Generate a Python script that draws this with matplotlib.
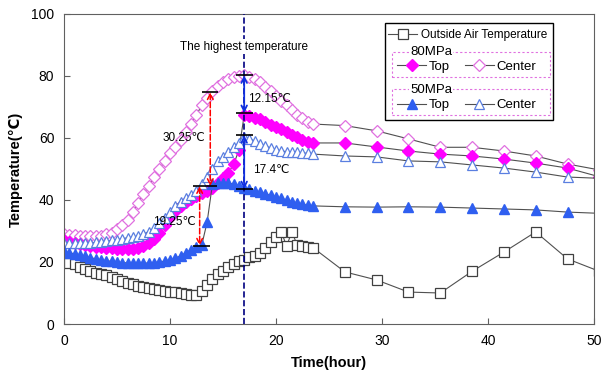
import matplotlib
matplotlib.use('Agg')
import matplotlib.pyplot as plt
from matplotlib.patches import Rectangle

plt.rcParams['font.family'] = ['Liberation Sans', 'DejaVu Sans']

# time (hour): every 0.5 h up to 23.5 h, then every 3 h
hours = [0, 0.5, 1, 1.5, 2, 2.5, 3, 3.5, 4, 4.5, 5, 5.5, 6, 6.5, 7, 7.5,
         8, 8.5, 9, 9.5, 10, 10.5, 11, 11.5, 12, 12.5, 13, 13.5, 14, 14.5,
         15, 15.5, 16, 16.5, 17, 17.5, 18, 18.5, 19, 19.5, 20, 20.5, 21,
         21.5, 22, 22.5, 23, 23.5,
         26.5, 29.5, 32.5, 35.5, 38.5, 41.5, 44.5, 47.5, 50.5]

outside_air = [20.5, 19.8, 19.2, 18.5, 17.8, 17.0, 16.5, 16.2, 15.8, 15.2,
               14.5, 13.8, 13.2, 12.8, 12.3, 12.0, 11.6, 11.2, 11.0, 10.6,
               10.4, 10.2, 10.0, 9.8, 9.5, 9.2, 10.5, 12.5, 14.5, 16.0,
               17.2, 18.4, 19.5, 20.2, 20.8, 21.5, 22.0, 23.0, 24.5, 26.5,
               28.0, 29.7, 25.2, 29.7, 25.5, 25.2, 24.9, 24.6,
               16.8, 14.2, 10.3, 10.0, 17.0, 23.2, 29.7, 21.0, 17.0]

mpa80_center = [29.0, 28.8, 28.6, 28.5, 28.4, 28.3, 28.3, 28.5, 29.0, 29.5,
                30.5, 32.0, 33.5, 36.0, 39.0, 42.0, 44.5, 47.5, 50.0, 52.5,
                55.0, 57.0, 59.5, 62.0, 64.5, 67.5, 70.5, 73.0, 75.0, 76.8,
                78.0, 79.0, 79.6, 80.0, 80.2, 79.8, 79.0, 78.0, 76.5, 75.0,
                73.5, 72.0, 70.5, 69.0, 67.5, 66.3, 65.3, 64.5,
                64.0, 62.3, 59.7, 57.0, 57.0, 55.8, 54.2, 51.6, 49.7]

mpa80_top = [27.0, 26.5, 26.0, 25.7, 25.4, 25.1, 24.9, 24.7, 24.5, 24.4,
             24.3, 24.2, 24.2, 24.3, 24.5, 25.0, 26.0, 27.5, 29.5, 32.0,
             34.5, 36.5, 38.0, 39.3, 40.3, 41.3, 42.2, 43.0, 44.0, 45.5,
             47.0, 48.7, 51.5, 56.0, 67.4, 67.0, 66.6, 66.0, 65.0, 64.2,
             63.5, 62.8, 62.0, 61.0, 60.2, 59.5, 58.8, 58.4,
             58.4, 57.1, 55.8, 54.8, 54.2, 53.2, 51.9, 50.3, 47.5]

mpa50_center = [26.0, 26.0, 26.0, 26.0, 26.1, 26.2, 26.3, 26.5, 26.7, 27.0,
                27.2, 27.5, 27.8, 28.0, 28.4, 29.0, 29.8, 31.0, 32.5, 34.3,
                36.2, 38.0, 39.5, 40.5, 41.5, 43.0, 45.0, 47.5, 50.0, 52.5,
                54.0, 55.5, 57.0, 58.5, 60.3, 59.8, 59.0, 58.2, 57.4, 56.8,
                56.2, 55.8, 55.6, 55.5, 55.4, 55.2, 55.0, 54.8,
                54.2, 53.9, 52.6, 52.3, 51.3, 50.3, 49.0, 47.4, 47.0]

mpa50_top = [23.5, 23.0, 22.6, 22.2, 21.8, 21.4, 21.0, 20.7, 20.4, 20.2,
             20.0, 19.8, 19.7, 19.6, 19.6, 19.6, 19.7, 19.8, 20.0, 20.3,
             20.7, 21.2, 22.0, 23.0, 24.0, 24.8, 25.5, 32.8, 45.0, 45.5,
             45.5, 45.4, 45.2, 44.6, 44.0, 43.5, 43.0, 42.5, 42.0, 41.5,
             41.0, 40.5, 40.0, 39.5, 39.0, 38.6, 38.3, 38.1,
             37.8, 37.7, 37.8, 37.7, 37.4, 37.1, 36.8, 36.1, 35.7]

# temperature differences: (x, low, high, label)
peak_hour = 17
red_diffs = [(12.8, 25.25, 44.5, '19.25℃'), (13.8, 44.5, 74.75, '30.25℃')]
blue_diffs = [(17, 68.05, 80.2, '12.15℃'), (17, 43.5, 60.9, '17.4℃')]

fig = plt.figure(figsize=(6.07, 3.81), dpi=100)
ax = fig.add_axes([0.1054, 0.1496, 0.8732, 0.8137])

line_kw = dict(color='#505050', linewidth=0.8, markersize=6.5)
h_out, = ax.plot(hours, outside_air, marker='s', markerfacecolor='white',
                 markeredgecolor='#404040', markeredgewidth=0.9, **line_kw)
h80c, = ax.plot(hours, mpa80_center, marker='D', markerfacecolor='white',
                markeredgecolor='#E070E0', markeredgewidth=0.9, **line_kw)
h80t, = ax.plot(hours, mpa80_top, marker='D', markerfacecolor='#FF00FF',
                markeredgecolor='#FF00FF', **line_kw)
h50c, = ax.plot(hours, mpa50_center, marker='^', markerfacecolor='white',
                markeredgecolor='#5A7FE0', markeredgewidth=0.9, **line_kw)
h50t, = ax.plot(hours, mpa50_top, marker='^', markerfacecolor='#2F5FF0',
                markeredgecolor='#2F5FF0', **line_kw)

# highest temperature line
ax.axvline(peak_hour, color='#000080', linestyle='--', linewidth=1.2, zorder=3)
ax.text(peak_hour, 89.5, 'The highest temperature', ha='center', va='center',
        fontsize=8.5, bbox=dict(facecolor='white', edgecolor='none', pad=1),
        zorder=4)

# caps
ax.hlines([25.25], 12.2, 13.8, color='black', linewidth=1.2, zorder=6)
ax.hlines([44.5], 12.2, 14.4, color='black', linewidth=1.2, zorder=6)
ax.hlines([74.75], 13.0, 14.5, color='black', linewidth=1.2, zorder=6)
for x, lo, hi, lab in blue_diffs:
    ax.hlines([lo, hi], x - 0.8, x + 0.8, color='black', linewidth=1.2, zorder=6)

for x, lo, hi, lab in red_diffs:
    ax.annotate('', xy=(x, lo), xytext=(x, hi),
                arrowprops=dict(arrowstyle='<->', color='red', linestyle='--',
                                linewidth=1.1, shrinkA=0, shrinkB=0), zorder=6)
for x, lo, hi, lab in blue_diffs:
    ax.annotate('', xy=(x, lo), xytext=(x, hi),
                arrowprops=dict(arrowstyle='<->', color='#1030E0',
                                linewidth=1.3, shrinkA=0, shrinkB=0), zorder=6)

ax.text(12.4, 32.9, red_diffs[0][3], ha='right', va='center', fontsize=8.5)
ax.text(13.3, 60.0, red_diffs[1][3], ha='right', va='center', fontsize=8.5)
ax.text(17.4, 72.5, blue_diffs[0][3], ha='left', va='center', fontsize=8.5)
ax.text(17.8, 49.7, blue_diffs[1][3], ha='left', va='center', fontsize=8.5)

# legend boxes
ax.add_patch(Rectangle((0.606, 0.658), 0.317, 0.312, transform=ax.transAxes,
                       facecolor='white', edgecolor='black', linewidth=1,
                       zorder=4.5))
for y0, h in [(0.798, 0.078), (0.674, 0.084)]:
    ax.add_patch(Rectangle((0.618, y0), 0.299, h, transform=ax.transAxes,
                           facecolor='none', edgecolor='#E070E0',
                           linestyle=(0, (2, 2)), linewidth=0.8, zorder=4.6))
ax.text(0.653, 0.876, '80MPa', transform=ax.transAxes, ha='left', va='center',
        fontsize=9.5, bbox=dict(facecolor='white', edgecolor='none', pad=0.5),
        zorder=4.7)
ax.text(0.653, 0.756, '50MPa', transform=ax.transAxes, ha='left', va='center',
        fontsize=9.5, bbox=dict(facecolor='white', edgecolor='none', pad=0.5),
        zorder=4.7)

leg1 = ax.legend([h_out], ['Outside Air Temperature'], loc='center left',
                 bbox_to_anchor=(0.612, 0.932), frameon=False, fontsize=8.5,
                 handlelength=2.45, handletextpad=0.3, borderpad=0,
                 borderaxespad=0)
ax.add_artist(leg1)
leg2 = ax.legend([h80t, h80c], ['Top', 'Center'], ncol=2, loc='center left',
                 bbox_to_anchor=(0.629, 0.830), frameon=False, fontsize=9.5,
                 handlelength=2.2, handletextpad=0.2, columnspacing=1.1,
                 borderpad=0, borderaxespad=0)
ax.add_artist(leg2)
leg3 = ax.legend([h50t, h50c], ['Top', 'Center'], ncol=2, loc='center left',
                 bbox_to_anchor=(0.629, 0.706), frameon=False, fontsize=9.5,
                 handlelength=2.2, handletextpad=0.2, columnspacing=1.1,
                 borderpad=0, borderaxespad=0)

ax.set_xlim(0, 50)
ax.set_ylim(0, 100)
ax.set_xticks([0, 10, 20, 30, 40, 50])
ax.set_yticks([0, 20, 40, 60, 80, 100])
ax.tick_params(direction='in', length=4, color='#606060', labelsize=10, pad=7)
for s in ax.spines.values():
    s.set_color('#606060')
ax.set_xlabel('Time(hour)', fontsize=10.5, fontweight='bold', labelpad=6)
ax.set_ylabel('Temperature(℃)', fontsize=10.5, fontweight='bold', labelpad=6)

fig.savefig('out.png', dpi=100)
